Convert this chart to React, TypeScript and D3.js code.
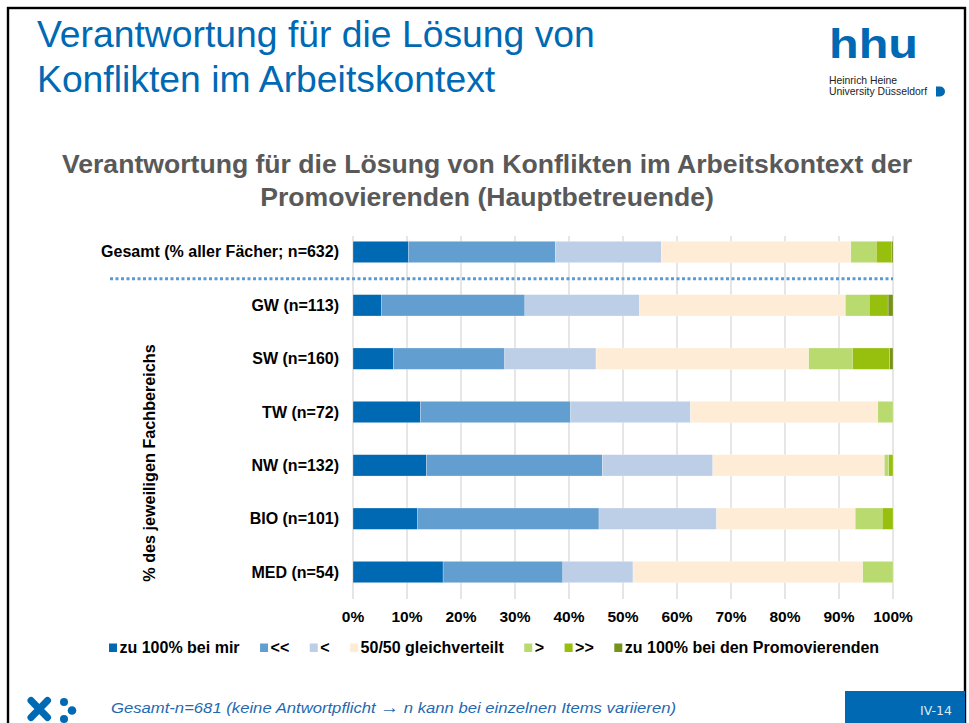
import { useEffect, useRef } from "react";
import * as d3 from "d3";

const W = 969;
const H = 723;

const categories = [
  "Gesamt (% aller Fächer; n=632)",
  "GW (n=113)",
  "SW (n=160)",
  "TW (n=72)",
  "NW (n=132)",
  "BIO (n=101)",
  "MED (n=54)",
];
const seriesNames = ["zu 100% bei mir", "<<", "<", "50/50 gleichverteilt", ">", ">>", "zu 100% bei den Promovierenden"];
const colors = ["#0069B4", "#629ECF", "#BDCEE7", "#FEECD6", "#B9DA6E", "#97BF0D", "#77921A"];

// Anteile in % je Kategorie (gleiche Reihenfolge wie categories)
const mir = [10.3, 5.3, 7.5, 12.5, 13.6, 11.9, 16.7];
const vielMir = [27.2, 26.5, 20.6, 27.8, 32.6, 33.7, 22.2];
const etwasMir = [19.6, 21.2, 16.9, 22.2, 20.5, 21.8, 13.0];
const gleich = [35.1, 38.1, 39.4, 34.7, 31.8, 25.7, 42.6];
const etwasProm = [4.7, 4.4, 8.1, 2.8, 0.8, 5.0, 5.6];
const vielProm = [2.8, 3.5, 6.9, 0, 0.8, 2.0, 0];
const prom = [0.3, 0.9, 0.6, 0, 0, 0, 0];
const series = [mir, vielMir, etwasMir, gleich, etwasProm, vielProm, prom];

const tickValues = [0, 0.1, 0.2, 0.3, 0.4, 0.5, 0.6, 0.7, 0.8, 0.9, 1];

const BLUE = "#0069B4";
const FONT = "'Liberation Sans', Arial, sans-serif";

function Chart() {
  const ref = useRef<SVGSVGElement>(null);

  useEffect(() => {
    const svg = d3.select(ref.current);
    svg.selectAll("*").remove();

    const rows = categories.map((c, i) => {
      const r: any = { cat: c };
      seriesNames.forEach((s, j) => (r[s] = series[j][i]));
      return r;
    });
    const stacked = d3.stack<any>().keys(seriesNames).offset(d3.stackOffsetExpand)(rows);

    const x = d3.scaleLinear().domain([0, 1]).range([353, 893]);
    const y = d3.scaleBand().domain(categories).range([225.3, 598.7]).paddingInner(0.6).paddingOuter(0.3);

    // slide frame
    svg.append("rect").attr("x", 8).attr("y", 8).attr("width", 957).attr("height", 760)
      .attr("fill", "none").attr("stroke", "#000").attr("stroke-width", 2.4);

    // slide title
    const t = svg.append("text").attr("font-family", FONT).attr("font-size", 37.3).attr("fill", BLUE);
    t.append("tspan").attr("x", 37).attr("y", 47).text("Verantwortung für die Lösung von");
    t.append("tspan").attr("x", 37).attr("y", 92).text("Konflikten im Arbeitskontext");

    // logo
    const logo = svg.append("g").attr("fill", BLUE).attr("font-family", FONT);
    logo.append("text").attr("x", 829).attr("y", 58).attr("font-size", 40).attr("font-weight", "bold")
      .attr("textLength", 89).attr("lengthAdjust", "spacingAndGlyphs").text("hhu");
    logo.append("text").attr("x", 829).attr("y", 84).attr("font-size", 10.4).attr("fill", "#222").text("Heinrich Heine");
    logo.append("text").attr("x", 829).attr("y", 94.5).attr("font-size", 10.4).attr("fill", "#222").text("University Düsseldorf");
    logo.append("path").attr("d", "M936,86.5H940A4.8,4.8 0 0 1 940,96.5H936Z");

    // chart title
    const ct = svg.append("text").attr("font-family", FONT).attr("font-size", 26.6).attr("font-weight", "bold")
      .attr("fill", "#595959").attr("text-anchor", "middle");
    ct.append("tspan").attr("x", 487).attr("y", 173).text("Verantwortung für die Lösung von Konflikten im Arbeitskontext der");
    ct.append("tspan").attr("x", 487).attr("y", 206).text("Promovierenden (Hauptbetreuende)");

    // grid
    svg.append("g").selectAll("line").data(tickValues).join("line")
      .attr("x1", d => x(d)).attr("x2", d => x(d)).attr("y1", 236).attr("y2", 599)
      .attr("stroke", "#D9D9D9").attr("stroke-width", 1.3);

    // bars
    const bars = svg.append("g");
    stacked.forEach((layer, j) => {
      bars.append("g").attr("fill", colors[j]).selectAll("rect").data(layer).join("rect")
        .attr("x", d => x(d[0])).attr("width", d => Math.max(0, x(d[1]) - x(d[0])))
        .attr("y", d => y(d.data.cat)!).attr("height", y.bandwidth())
        .attr("stroke", "#fff").attr("stroke-width", 0.4).attr("stroke-opacity", 0.6);
    });

    // separator
    const sepY = (y(categories[0])! + y(categories[1])! + y.bandwidth()) / 2;
    svg.append("line").attr("x1", 110).attr("x2", 893).attr("y1", sepY).attr("y2", sepY)
      .attr("stroke", "#5B9BD5").attr("stroke-width", 3).attr("stroke-dasharray", "3 2.5");

    // category labels
    svg.append("g").attr("font-family", FONT).attr("font-size", 16).attr("font-weight", "bold")
      .attr("text-anchor", "end").attr("fill", "#000")
      .selectAll("text").data(categories).join("text")
      .attr("x", 339).attr("y", d => y(d)! + y.bandwidth() / 2 + 5.5).text(d => d);

    // x axis labels
    svg.append("g").attr("font-family", FONT).attr("font-size", 15.5).attr("font-weight", "bold")
      .attr("text-anchor", "middle")
      .selectAll("text").data(tickValues).join("text")
      .attr("x", d => x(d)).attr("y", 622).text(d => d3.format(".0%")(d));

    // y axis title
    svg.append("text").attr("font-family", FONT).attr("font-size", 16.2).attr("font-weight", "bold")
      .attr("text-anchor", "middle").attr("transform", "translate(155,463) rotate(-90)")
      .text("% des jeweiligen Fachbereichs");

    // legend
    const lg = svg.append("g").attr("font-family", FONT).attr("font-size", 16).attr("font-weight", "bold");
    let lx = 109;
    seriesNames.forEach((s, j) => {
      lg.append("rect").attr("x", lx).attr("y", 643.5).attr("width", 8).attr("height", 8.5).attr("fill", colors[j]);
      const tx = lg.append("text").attr("x", lx + 10.5).attr("y", 652.5).text(s);
      const w = (tx.node() as SVGTextElement).getComputedTextLength();
      lx += 10.5 + w + 20.5;
    });

    // footer
    const ic = svg.append("g").attr("fill", BLUE);
    ic.append("path").attr("d", "M31,700.5L47.5,717.5M47.5,700.5L31,717.5")
      .attr("stroke", BLUE).attr("stroke-width", 7).attr("stroke-linecap", "round");
    ic.append("circle").attr("cx", 64).attr("cy", 702).attr("r", 4);
    ic.append("circle").attr("cx", 72).attr("cy", 710.5).attr("r", 4.3);
    ic.append("circle").attr("cx", 64).attr("cy", 719).attr("r", 4);

    const ft = svg.append("text").attr("x", 111).attr("y", 712.5).attr("font-family", FONT).attr("font-size", 15)
      .attr("font-style", "italic").attr("fill", "#1F69B1")
      .attr("textLength", 565).attr("lengthAdjust", "spacingAndGlyphs");
    ft.append("tspan").text("Gesamt-n=681 (keine Antwortpflicht ");
    ft.append("tspan").attr("font-size", 17).attr("font-style", "normal").text("→");
    ft.append("tspan").text(" n kann bei einzelnen Items variieren)");

    svg.append("rect").attr("x", 845).attr("y", 691).attr("width", 120).attr("height", 40).attr("fill", BLUE);
    svg.append("text").attr("x", 920).attr("y", 715).attr("font-family", "'DejaVu Sans', sans-serif")
      .attr("font-size", 12.5).attr("fill", "#DCE8F5").text("IV-14");
  }, []);

  return <svg ref={ref} width={W} height={H} style={{ position: "absolute", left: 0, top: 0, background: "#fff" }} />;
}

export default function App() {
  return <Chart />;
}
